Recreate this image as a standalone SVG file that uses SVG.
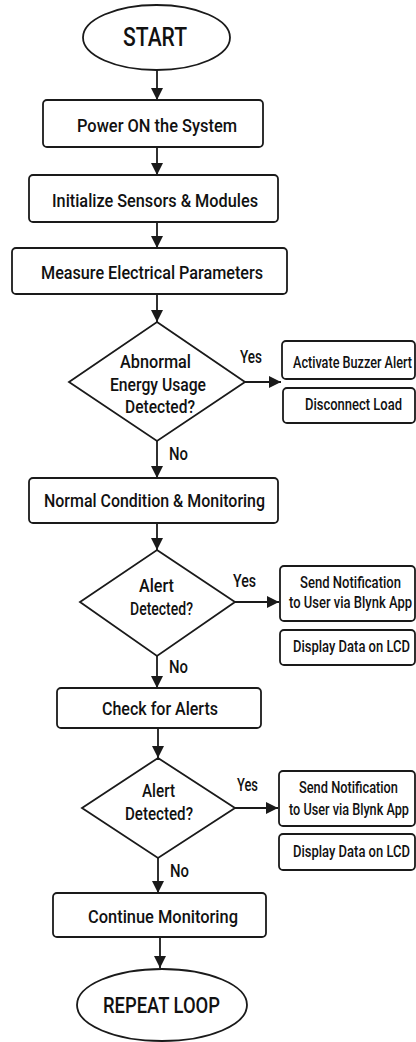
<svg xmlns="http://www.w3.org/2000/svg" width="416" height="1042" viewBox="0 0 416 1042">
<style>
.sh{fill:#fff;stroke:#1a1a1a;stroke-width:1.8}
.t{font-family:Roboto,"Liberation Sans",Arial,sans-serif;font-weight:500;fill:#111;text-anchor:middle}
.m{font-size:19px}
.s{font-size:16.5px}
.d{font-size:18.5px}
.lbl{font-size:18px}
.c{stroke:#1a1a1a;stroke-width:1.8;fill:none;marker-end:url(#ah)}
</style>
<defs>
<marker id="ah" markerUnits="userSpaceOnUse" markerWidth="12" markerHeight="12" viewBox="0 0 12 12" refX="12" refY="6" orient="auto">
<path d="M0,0 L12,6 L0,12 Z" fill="#1a1a1a"/>
</marker>
</defs>
<rect width="416" height="1042" fill="#fff"/>
<g id="connectors">
<line class="c" x1="157" y1="70" x2="157" y2="100"/>
<line class="c" x1="157" y1="147" x2="157" y2="175"/>
<line class="c" x1="157" y1="222" x2="157" y2="248"/>
<line class="c" x1="157" y1="294" x2="157" y2="322"/>
<line class="c" x1="157" y1="441" x2="157" y2="478"/>
<line class="c" x1="157" y1="523" x2="157" y2="550"/>
<line class="c" x1="157" y1="656" x2="157" y2="688"/>
<line class="c" x1="158" y1="728" x2="158" y2="758"/>
<line class="c" x1="158" y1="858" x2="158" y2="893"/>
<line class="c" x1="160" y1="937" x2="160" y2="968"/>
<line class="c" x1="245" y1="382" x2="281" y2="382"/>
<line class="c" x1="235" y1="602" x2="279" y2="602"/>
<line class="c" x1="235" y1="808" x2="278" y2="808"/>
<text class="t lbl" x="251" y="363" textLength="22" lengthAdjust="spacingAndGlyphs">Yes</text>
<text class="t lbl" x="178.5" y="460" textLength="19" lengthAdjust="spacingAndGlyphs">No</text>
<text class="t lbl" x="244.5" y="587" textLength="23" lengthAdjust="spacingAndGlyphs">Yes</text>
<text class="t lbl" x="178.5" y="673" textLength="19" lengthAdjust="spacingAndGlyphs">No</text>
<text class="t lbl" x="247.5" y="791" textLength="21" lengthAdjust="spacingAndGlyphs">Yes</text>
<text class="t lbl" x="179.5" y="877" textLength="19" lengthAdjust="spacingAndGlyphs">No</text>
</g>
<g id="start">
<ellipse class="sh" cx="156.5" cy="37.5" rx="73.5" ry="32.5"/>
<text class="t" x="155" y="46" font-size="25" font-weight="bold" textLength="64" lengthAdjust="spacingAndGlyphs">START</text>
</g>
<g id="power">
<rect class="sh" x="43" y="100" width="220" height="47" rx="4"/>
<text class="t m" x="157" y="132" textLength="160" lengthAdjust="spacingAndGlyphs">Power ON the System</text>
</g>
<g id="init">
<rect class="sh" x="29" y="175" width="249" height="47" rx="4"/>
<text class="t m" x="155" y="207" textLength="206" lengthAdjust="spacingAndGlyphs">Initialize Sensors &amp; Modules</text>
</g>
<g id="measure">
<rect class="sh" x="12" y="248" width="275" height="46" rx="4"/>
<text class="t m" x="152" y="279" textLength="222" lengthAdjust="spacingAndGlyphs">Measure Electrical Parameters</text>
</g>
<g id="decision1">
<polygon class="sh" points="157,322 245,382 157,441 69,382"/>
<text class="t d" x="155.5" y="368" textLength="71" lengthAdjust="spacingAndGlyphs">Abnormal</text>
<text class="t d" x="158" y="391" textLength="96" lengthAdjust="spacingAndGlyphs">Energy Usage</text>
<text class="t d" x="160" y="413" textLength="70" lengthAdjust="spacingAndGlyphs">Detected?</text>
</g>
<g id="buzzer">
<rect class="sh" x="282" y="341" width="133" height="38" rx="4"/>
<text class="t s" transform="translate(352.5,368) scale(0.78,1)" textLength="152.6" lengthAdjust="spacingAndGlyphs">Activate Buzzer Alert</text>
</g>
<g id="disconnect">
<rect class="sh" x="283" y="388" width="132" height="35" rx="4"/>
<text class="t s" transform="translate(353.5,410) scale(0.78,1)" textLength="124.4" lengthAdjust="spacingAndGlyphs">Disconnect Load</text>
</g>
<g id="normal">
<rect class="sh" x="29" y="478" width="249" height="45" rx="4"/>
<text class="t m" x="154.5" y="507" textLength="221" lengthAdjust="spacingAndGlyphs">Normal Condition &amp; Monitoring</text>
</g>
<g id="decision2">
<polygon class="sh" points="157,550 235,602 157,656 80,602"/>
<text class="t d" x="156.5" y="592" textLength="35" lengthAdjust="spacingAndGlyphs">Alert</text>
<text class="t d" x="161.5" y="615" textLength="63" lengthAdjust="spacingAndGlyphs">Detected?</text>
</g>
<g id="notify1">
<rect class="sh" x="280" y="566" width="135" height="55" rx="4"/>
<text class="t s" transform="translate(350.5,588) scale(0.78,1)" textLength="129.5" lengthAdjust="spacingAndGlyphs">Send Notification</text>
<text class="t s" transform="translate(350.5,608) scale(0.78,1)" textLength="157.7" lengthAdjust="spacingAndGlyphs">to User via Blynk App</text>
</g>
<g id="lcd1">
<rect class="sh" x="280" y="630" width="135" height="35" rx="4"/>
<text class="t s" transform="translate(351.5,652) scale(0.78,1)" textLength="150" lengthAdjust="spacingAndGlyphs">Display Data on LCD</text>
</g>
<g id="check">
<rect class="sh" x="57" y="688" width="204" height="40" rx="4"/>
<text class="t m" x="160" y="715" textLength="116" lengthAdjust="spacingAndGlyphs">Check for Alerts</text>
</g>
<g id="decision3">
<polygon class="sh" points="158,758 235,808 158,858 82,808"/>
<text class="t d" x="158.5" y="797" textLength="33" lengthAdjust="spacingAndGlyphs">Alert</text>
<text class="t d" x="159" y="820" textLength="68" lengthAdjust="spacingAndGlyphs">Detected?</text>
</g>
<g id="notify2">
<rect class="sh" x="279" y="771" width="136" height="55" rx="4"/>
<text class="t s" transform="translate(348.5,793) scale(0.78,1)" textLength="126.9" lengthAdjust="spacingAndGlyphs">Send Notification</text>
<text class="t s" transform="translate(349,815) scale(0.78,1)" textLength="153.8" lengthAdjust="spacingAndGlyphs">to User via Blynk App</text>
</g>
<g id="lcd2">
<rect class="sh" x="279" y="834" width="136" height="36" rx="4"/>
<text class="t s" transform="translate(351.5,857) scale(0.78,1)" textLength="150" lengthAdjust="spacingAndGlyphs">Display Data on LCD</text>
</g>
<g id="continue">
<rect class="sh" x="53" y="893" width="213" height="44" rx="4"/>
<text class="t m" x="163" y="923" textLength="150" lengthAdjust="spacingAndGlyphs">Continue Monitoring</text>
</g>
<g id="repeat">
<ellipse class="sh" cx="162" cy="1005" rx="85" ry="36"/>
<text class="t" x="161.5" y="1013" font-size="22" textLength="117" lengthAdjust="spacingAndGlyphs">REPEAT LOOP</text>
</g>
</svg>
